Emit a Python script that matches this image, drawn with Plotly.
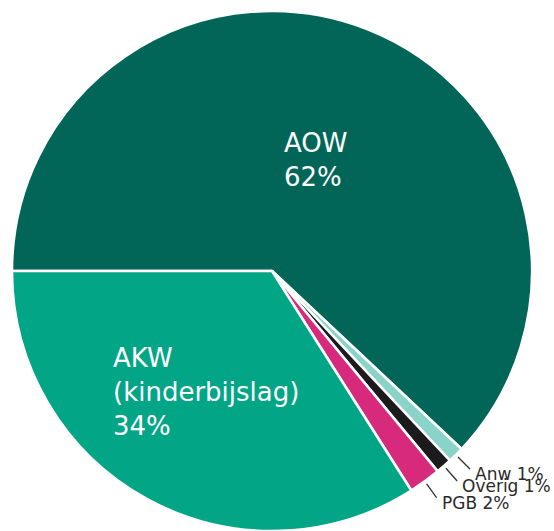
import math
import plotly.graph_objects as go

# ---- data ----
labels = ["AOW", "Anw", "Overig", "PGB", "AKW"]
values = [62, 1, 1, 2, 34]
display_text = ["AOW<br>62%", "Anw 1%", "Overig 1%", "PGB 2%", "AKW<br>(kinderbijslag)<br>34%"]
colors = ["#016657", "#8ad3c9", "#1b1a1c", "#d82a7d", "#02a585"]
inside = [True, False, False, False, True]
inside_frac = [0.46, None, None, None, 0.53]

W, H = 554, 531
ROTATION = 270
dom_x = [11 / W, 533 / W]
dom_y = [0.0, 1 - 11 / H]

fig = go.Figure(go.Pie(
    labels=labels,
    values=values,
    sort=False,
    direction="clockwise",
    rotation=ROTATION,
    marker=dict(colors=colors, line=dict(color="white", width=2.5)),
    textinfo="none",
    hoverinfo="label+percent",
    domain=dict(x=dom_x, y=dom_y),
))

# geometry of the pie in pixels (derived from domain)
cx = W * (dom_x[0] + dom_x[1]) / 2
cy = H * (1 - (dom_y[0] + dom_y[1]) / 2)
r = min(W * (dom_x[1] - dom_x[0]), H * (dom_y[1] - dom_y[0])) / 2


def to_paper(px, py):
    return px / W, 1 - py / H


total = sum(values)
cum = 0
annotations = []
shapes = []
for lab, v, txt, ins, frac in zip(labels, values, display_text, inside, inside_frac):
    mid = ROTATION + 360 * (cum + v / 2) / total
    cum += v
    a = math.radians(mid)
    sx, sy = math.sin(a), -math.cos(a)
    if ins:
        px, py = cx + frac * r * sx, cy + frac * r * sy
        x, y = to_paper(px, py)
        annotations.append(dict(
            x=x, y=y, xref="paper", yref="paper", text=txt, showarrow=False,
            xanchor="center", yanchor="middle", align="left",
            font=dict(family="DejaVu Sans", size=26, color="white"),
        ))
    else:
        x0, y0 = to_paper(cx + (r + 3) * sx, cy + (r + 3) * sy)
        ex, ey = cx + (r + 20) * sx, cy + (r + 20) * sy
        x1, y1 = to_paper(ex, ey)
        shapes.append(dict(type="line", xref="paper", yref="paper",
                           x0=x0, y0=y0, x1=x1, y1=y1,
                           line=dict(color="#333333", width=1.3)))
        tx, ty = to_paper(ex + 3, ey + 5)
        annotations.append(dict(
            x=tx, y=ty, xref="paper", yref="paper", text=txt, showarrow=False,
            xanchor="left", yanchor="middle",
            font=dict(family="DejaVu Sans", size=17, color="#2a2a2a"),
        ))

fig.update_layout(
    width=W, height=H,
    margin=dict(l=0, r=0, t=0, b=0),
    paper_bgcolor="white",
    plot_bgcolor="white",
    showlegend=False,
    annotations=annotations,
    shapes=shapes,
)

fig.write_html("out.html", config={"displayModeBar": False},
               post_script="document.body.style.margin='0px';")
